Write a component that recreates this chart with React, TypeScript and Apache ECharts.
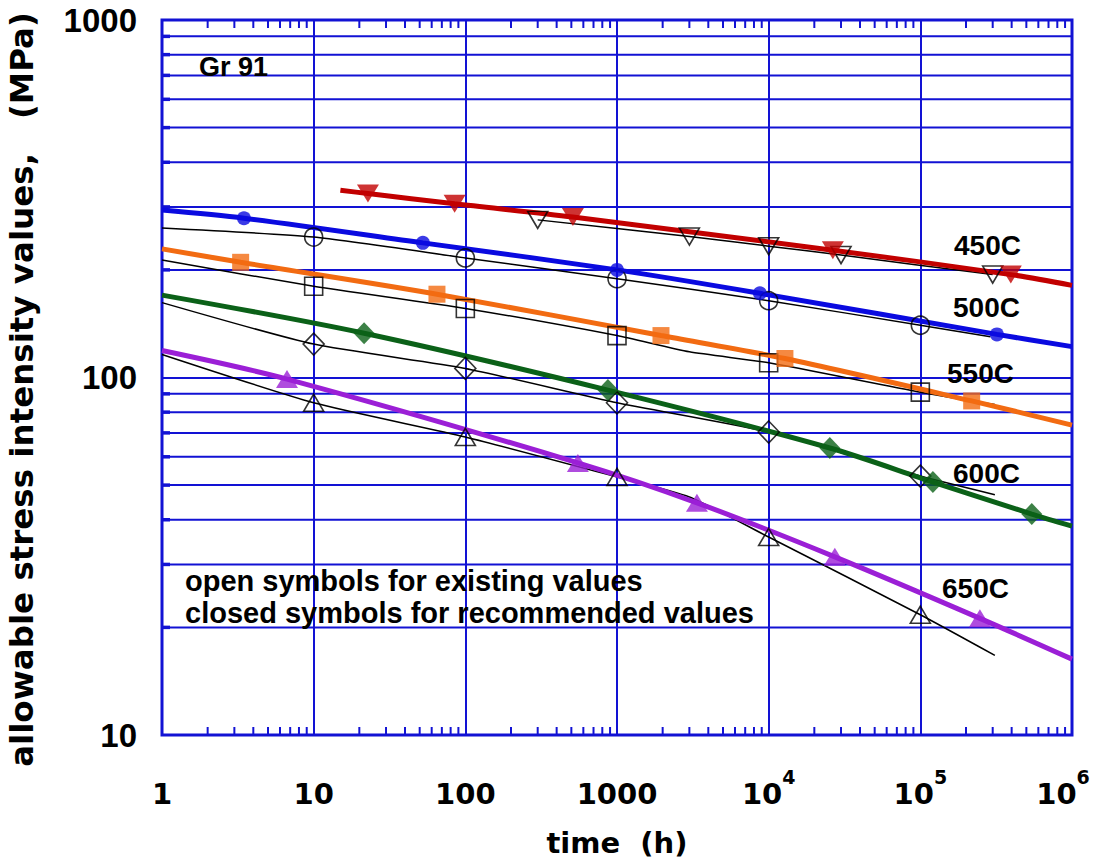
import React, { useEffect, useRef } from 'react';
import * as echarts from 'echarts';

type Pt = [number, number];

// ---- axes / ticks ----
const xDecades = [1, 10, 100, 1000, 10000, 100000];
const minorMultipliers = [2, 3, 4, 5, 6, 7, 8, 9];
const yMinorLines = [20, 30, 40, 50, 60, 70, 80, 90, 200, 300, 400, 500, 600, 700, 800, 900];

// ---- 450C ----
const rec450Line: Pt[] = [[15, 334], [22.8, 327], [85, 306], [512, 281], [26500, 227], [395000, 194], [1000000, 181]];
const rec450Marks: Pt[] = [[22.8, 327], [85, 306], [512, 281], [26500, 227], [395000, 194]];
const exist450Line: Pt[] = [[300, 276], [3000, 248], [10000, 233], [30000, 220], [300000, 194]];
const exist450Marks: Pt[] = [[300, 276], [3000, 248], [10000, 233], [30000, 220], [300000, 194]];

// ---- 500C ----
const rec500Line: Pt[] = [[1, 294], [3.47, 279], [52.5, 238], [1000, 200], [8750, 172], [320000, 132], [1000000, 122]];
const rec500Marks: Pt[] = [[3.47, 279], [52.5, 238], [1000, 200], [8750, 172], [320000, 132]];
const exist500Line: Pt[] = [[1, 262], [10, 247], [100, 216], [1000, 189], [10000, 164], [100000, 140], [290000, 130]];
const exist500Marks: Pt[] = [[10, 247], [100, 216], [1000, 189], [10000, 164], [100000, 140]];

// ---- 550C ----
const rec550Line: Pt[] = [[1, 229], [3.3, 210], [65, 171], [1950, 131], [12800, 113], [218000, 86], [1000000, 73.6]];
const rec550Marks: Pt[] = [[3.3, 210], [65, 171], [1950, 131], [12800, 113], [218000, 86]];
const exist550Line: Pt[] = [[1, 213], [10, 180], [100, 156], [1000, 131], [3000, 118], [10000, 110], [100000, 91], [310000, 84]];
const exist550Marks: Pt[] = [[10, 180], [100, 156], [1000, 131], [10000, 110], [100000, 91]];

// ---- 600C ----
const rec600Line: Pt[] = [[1, 170], [21.5, 133], [871, 92.2], [25300, 63.5], [121000, 51], [543000, 41.5], [1000000, 38.4]];
const rec600Marks: Pt[] = [[21.5, 133], [871, 92.2], [25300, 63.5], [121000, 51], [543000, 41.5]];
const exist600Line: Pt[] = [[1, 162], [10, 124], [100, 106], [1000, 85], [10000, 70.4], [100000, 53], [310000, 47]];
const exist600Marks: Pt[] = [[10, 124], [100, 106], [1000, 85], [10000, 70.4], [100000, 53]];

// ---- 650C ----
const rec650Line: Pt[] = [[1, 119], [6.67, 99], [552, 57.7], [3365, 44.6], [27300, 31.5], [247000, 21.2], [1000000, 16.3]];
const rec650Marks: Pt[] = [[6.67, 99], [552, 57.7], [3365, 44.6], [27300, 31.5], [247000, 21.2]];
const exist650Line: Pt[] = [[1, 116], [10, 85], [100, 68.2], [1000, 52.7], [3000, 46.3], [10000, 35.8], [100000, 21.7], [310000, 16.7]];
const exist650Marks: Pt[] = [[10, 85], [100, 68.2], [1000, 52.7], [10000, 35.8], [100000, 21.7]];

const curveLabels = ['450C', '500C', '550C', '600C', '650C'];
const noteLines = ['open symbols for existing values', 'closed symbols for recommended values'];
const materialLabel = 'Gr 91';

const GRID_BLUE = '#1212d4';
const ARIAL = '"Liberation Sans", Arial, sans-serif';
const DEJAVU = '"DejaVu Sans", sans-serif';

export default function App() {
  const ref = useRef<HTMLDivElement>(null);

  useEffect(() => {
    document.body.style.margin = '0';
    const chart = echarts.init(ref.current!, null, { renderer: 'svg' });

    const xMinorTicks: number[] = [];
    xDecades.forEach((d) => minorMultipliers.forEach((m) => xMinorTicks.push(d * m)));

    const existSeries = (line: Pt[], marks: Pt[], symbol: string, size: number | number[], rotate = 0) => [
      {
        type: 'line', data: line, showSymbol: false, smooth: 0.2, z: 3, silent: true,
        lineStyle: { color: '#000', width: 1.5 },
      },
      {
        type: 'scatter', data: marks, symbol, symbolSize: size, symbolRotate: rotate, z: 5, silent: true,
        itemStyle: { color: 'rgba(255,255,255,0)', borderColor: '#000', borderWidth: 1.6 },
      },
    ];
    const recSeries = (line: Pt[], marks: Pt[], color: string, symbol: string, size: number | number[], rotate = 0) => [
      {
        type: 'line', data: line, showSymbol: false, smooth: 0.3, z: 4, silent: true,
        lineStyle: { color, width: 5 },
      },
      {
        type: 'scatter', data: marks, symbol, symbolSize: size, symbolRotate: rotate, z: 6, silent: true,
        itemStyle: { color, borderWidth: 0 },
      },
    ];

    const labelPos: [number, number][] = [[954, 245], [953, 307], [947, 373], [953, 473], [942, 588]];

    chart.setOption({
      animation: false,
      grid: {
        left: 162, right: 25, top: 20, bottom: 124,
        outerBoundsMode: 'none', containLabel: false,
        show: true, borderColor: GRID_BLUE, borderWidth: 3, backgroundColor: '#fff',
      },
      xAxis: {
        type: 'log', logBase: 10, min: 1, max: 1000000,
        name: 'time\u00a0\u00a0(h)', nameLocation: 'middle', nameGap: 93,
        nameTextStyle: { fontFamily: DEJAVU, fontWeight: 'bold', fontSize: 29, color: '#000' },
        axisLine: { show: false },
        axisTick: { show: false },
        splitLine: { show: true, lineStyle: { color: GRID_BLUE, width: 2 } },
        axisLabel: {
          margin: 32,
          formatter: (v: number) => {
            const e = Math.round(Math.log10(v));
            if (e <= 3) return `{b|${Math.round(v)}}`;
            if (e >= 6) return `{b|10}{s6|${e}}`;
            return `{b|10}{s|${e}}`;
          },
          rich: {
            b: { fontFamily: DEJAVU, fontWeight: 'bold', fontSize: 29, lineHeight: 41, color: '#000', verticalAlign: 'bottom' },
            s: { fontFamily: DEJAVU, fontWeight: 'bold', fontSize: 19, lineHeight: 19, color: '#000', verticalAlign: 'top' },
            s6: { fontFamily: DEJAVU, fontWeight: 'bold', fontSize: 19, lineHeight: 19, color: '#000', verticalAlign: 'top', padding: [0, 18, 0, 0] },
          },
        },
      },
      yAxis: {
        type: 'log', logBase: 10, min: 10, max: 1000,
        name: 'allowable stress intensity values,\u00a0\u00a0\u00a0(MPa)', nameLocation: 'middle', nameGap: 124, nameRotate: 90,
        nameTextStyle: { fontFamily: DEJAVU, fontWeight: 'bold', fontSize: 32.5, color: '#000', padding: [0, 24, 0, 0] },
        axisLine: { show: false },
        axisTick: { show: false },
        splitLine: { show: true, lineStyle: { color: GRID_BLUE, width: 2 } },
        axisLabel: {
          margin: 25,
          fontFamily: ARIAL, fontWeight: 'bold', fontSize: 33, color: '#000',
          formatter: (v: number) => String(Math.round(v)),
        },
      },
      series: [
        {
          type: 'custom', silent: true, z: 1, clip: false,
          data: yMinorLines.map((v) => [1, v]),
          renderItem: (params: any, api: any) => {
            const v = api.value(1);
            const a = api.coord([1, v]);
            const b = api.coord([1000000, v]);
            return {
              type: 'group',
              children: [
                { type: 'line', shape: { x1: a[0], y1: a[1], x2: b[0], y2: b[1] }, style: { stroke: GRID_BLUE, lineWidth: 2 } },
                { type: 'line', shape: { x1: a[0], y1: a[1], x2: a[0] + 8, y2: a[1] }, style: { stroke: GRID_BLUE, lineWidth: 3.5 } },
              ],
            };
          },
        },
        {
          type: 'custom', silent: true, z: 1, clip: false,
          data: xMinorTicks.map((t) => [t, 10]),
          renderItem: (params: any, api: any) => {
            const t = api.value(0);
            const b = api.coord([t, 10]);
            const tp = api.coord([t, 1000]);
            return {
              type: 'group',
              children: [
                { type: 'line', shape: { x1: b[0], y1: b[1], x2: b[0], y2: b[1] - 8 }, style: { stroke: GRID_BLUE, lineWidth: 2 } },
                { type: 'line', shape: { x1: tp[0], y1: tp[1], x2: tp[0], y2: tp[1] + 8 }, style: { stroke: GRID_BLUE, lineWidth: 2 } },
              ],
            };
          },
        },
        ...existSeries(exist450Line, exist450Marks, 'triangle', [20, 17], 180),
        ...existSeries(exist500Line, exist500Marks, 'circle', 18),
        ...existSeries(exist550Line, exist550Marks, 'rect', 18),
        ...existSeries(exist600Line, exist600Marks, 'diamond', [21, 22]),
        ...existSeries(exist650Line, exist650Marks, 'triangle', [20, 17]),
        ...recSeries(rec450Line, rec450Marks, '#c20000', 'triangle', [22, 18], 180),
        ...recSeries(rec500Line, rec500Marks, '#0a0ae0', 'circle', 14),
        ...recSeries(rec550Line, rec550Marks, '#f26b12', 'rect', 17),
        ...recSeries(rec600Line, rec600Marks, '#0b6118', 'diamond', [21, 22]),
        ...recSeries(rec650Line, rec650Marks, '#9b1fd6', 'triangle', [22, 18]),
      ],
      graphic: [
        {
          type: 'text', x: 199, y: 67, z: 10, silent: true,
          style: { text: materialLabel, font: `bold 27px ${ARIAL}`, fill: '#000', verticalAlign: 'middle' },
        },
        ...curveLabels.map((t, i) => ({
          type: 'text', x: labelPos[i][0], y: labelPos[i][1], z: 10, silent: true,
          style: { text: t, font: `bold 28px ${ARIAL}`, fill: '#000', verticalAlign: 'middle' },
        })),
        ...noteLines.map((t, i) => ({
          type: 'text', x: 185, y: 581 + i * 32, z: 10, silent: true,
          style: { text: t, font: `bold 29px ${ARIAL}`, fill: '#000', verticalAlign: 'middle' },
        })),
      ],
    });

    return () => chart.dispose();
  }, []);

  return <div ref={ref} style={{ width: 1097, height: 859 }} />;
}
